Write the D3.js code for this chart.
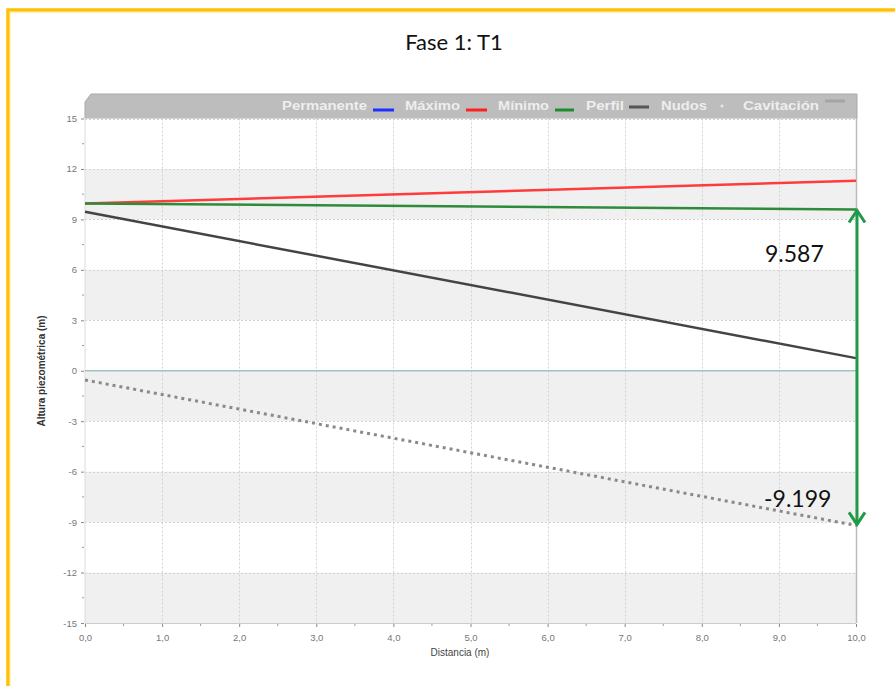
<!DOCTYPE html>
<html>
<head>
<meta charset="utf-8">
<script src="https://cdn.jsdelivr.net/npm/d3@7"></script>
<style>
  html, body { margin: 0; padding: 0; background: #fff; }
  svg { display: block; }
</style>
</head>
<body>
<svg id="chart" width="895" height="686"></svg>
<script>
// ---- data ----
const title = "Fase 1: T1";
const distances = [0, 10];
const maximo = [9.95, 11.3];
const minimo = [9.95, 9.587];
const perfil = [9.45, 0.75];
const cavitacion = [-0.55, -9.199];
const yTicks = [15, 12, 9, 6, 3, 0, -3, -6, -9, -12, -15];
const xTicks = [0, 1, 2, 3, 4, 5, 6, 7, 8, 9, 10];
const legendNames = ["Permanente", "Máximo", "Mínimo", "Perfil", "Nudos", "Cavitación"];
const annotTop = 9.587;
const annotBottom = -9.199;
const xTitle = "Distancia (m)";
const yTitle = "Altura piezométrica (m)";

const svg = d3.select("#chart");
const L = 85, R = 856, T = 118.5, B = 623;

const x = d3.scaleLinear().domain([0, 10]).range([L, R]);
const y = d3.scaleLinear().domain([-15, 15]).range([B, T]);

// outer yellow frame
svg.append("rect").attr("x", 8).attr("y", 10).attr("width", 920).attr("height", 720)
  .attr("fill", "none").attr("stroke", "#FFC000").attr("stroke-width", 3.5);
svg.append("rect").attr("x", 10).attr("y", 12).attr("width", 920).attr("height", 720)
  .attr("fill", "none").attr("stroke", "#FFE38A").attr("stroke-width", 1);

// title
svg.append("text").attr("x", 454).attr("y", 50).attr("text-anchor", "middle")
  .attr("font-family", "Lato, 'Open Sans', sans-serif").attr("font-size", 22)
  .attr("fill", "#111").text(title);

// header band with slanted left corner
svg.append("path")
  .attr("d", `M${L},${T} L${L},${102} L${L + 6},${94} L${R + 1},${94} L${R + 1},${T} Z`)
  .attr("fill", "#bdbdbd").attr("stroke", "#a9a9a9").attr("stroke-width", 1);

// bands
const bandPairs = d3.pairs(yTicks);
svg.append("g").selectAll("rect").data(bandPairs).join("rect")
  .attr("x", L).attr("width", R - L)
  .attr("y", d => y(d[0])).attr("height", d => y(d[1]) - y(d[0]))
  .attr("fill", (d, i) => i % 2 === 1 ? "#f0f0f0" : "#ffffff");

// grid
const grid = svg.append("g").attr("stroke", "#d2d2d2").attr("stroke-dasharray", "2,2").attr("stroke-width", 1);
grid.selectAll(".gx").data(xTicks.slice(1, -1)).join("line")
  .attr("x1", d => Math.round(x(d)) + 0.5).attr("x2", d => Math.round(x(d)) + 0.5)
  .attr("y1", T).attr("y2", B);
grid.selectAll(".gy").data(yTicks.filter(v => v !== 0 && v !== -15)).join("line")
  .attr("x1", L).attr("x2", R)
  .attr("y1", d => Math.round(y(d)) + 0.5).attr("y2", d => Math.round(y(d)) + 0.5);

// plot borders
svg.append("line").attr("x1", L).attr("x2", L).attr("y1", T).attr("y2", B).attr("stroke", "#dcdcdc");
svg.append("line").attr("x1", R + 0.5).attr("x2", R + 0.5).attr("y1", T).attr("y2", B).attr("stroke", "#bbbbbb").attr("stroke-width", 1.5);
svg.append("line").attr("x1", L).attr("x2", R).attr("y1", B + 0.5).attr("y2", B + 0.5).attr("stroke", "#cccccc");

// zero line
svg.append("line").attr("x1", L).attr("x2", R).attr("y1", y(0)).attr("y2", y(0))
  .attr("stroke", "#9fc3c3").attr("stroke-width", 1.5);

// axes
const yAxis = d3.axisLeft(y).tickValues(yTicks).tickSize(3).tickFormat(d => String(d));
const gy = svg.append("g").attr("transform", `translate(${L - 1},0)`).call(yAxis);
gy.select(".domain").remove();
gy.selectAll("line").attr("stroke", "#888");
gy.selectAll("text").attr("fill", "#777").attr("font-size", 9.5).attr("font-family", "'Liberation Sans', Arial, sans-serif").attr("dx", -1);
// minor y ticks
svg.append("g").selectAll("line").data(d3.range(-13.5, 15, 3)).join("line")
  .attr("x1", L - 3).attr("x2", L - 1).attr("y1", d => y(d)).attr("y2", d => y(d)).attr("stroke", "#999");

const xAxis = d3.axisBottom(x).tickValues(xTicks).tickSize(3).tickFormat(d => d3.format(".1f")(d).replace(".", ","));
const gx = svg.append("g").attr("transform", `translate(0,${B + 1})`).call(xAxis);
gx.select(".domain").remove();
gx.selectAll("line").attr("stroke", "#888");
gx.selectAll("text").attr("fill", "#777").attr("font-size", 9.5).attr("font-family", "'Liberation Sans', Arial, sans-serif").attr("dy", "1.2em");
svg.append("g").selectAll("line").data(d3.range(0.5, 10, 1)).join("line")
  .attr("x1", d => x(d)).attr("x2", d => x(d)).attr("y1", B + 1).attr("y2", B + 3).attr("stroke", "#999");

// axis titles
svg.append("text").attr("x", 460).attr("y", 656).attr("text-anchor", "middle")
  .attr("font-family", "'Liberation Sans', Arial, sans-serif").attr("font-size", 10).attr("fill", "#444").text(xTitle);
svg.append("text").attr("transform", `translate(45,${371}) rotate(-90)`).attr("text-anchor", "middle")
  .attr("font-family", "'Liberation Sans', Arial, sans-serif").attr("font-size", 10).attr("font-weight", "bold")
  .attr("fill", "#333").text(yTitle);

// series
const line = d3.line().x(d => x(d[0])).y(d => y(d[1]));
const zipped = arr => distances.map((d, i) => [d, arr[i]]);
svg.append("path").datum(zipped(cavitacion)).attr("d", line).attr("fill", "none")
  .attr("stroke", "#8a8a8a").attr("stroke-width", 3).attr("stroke-dasharray", "3,4");
svg.append("path").datum(zipped(perfil)).attr("d", line).attr("fill", "none")
  .attr("stroke", "#444").attr("stroke-width", 2.5);
svg.append("path").datum(zipped(maximo)).attr("d", line).attr("fill", "none")
  .attr("stroke", "#ff3b3b").attr("stroke-width", 2.5);
svg.append("path").datum(zipped(minimo)).attr("d", line).attr("fill", "none")
  .attr("stroke", "#2e8b3a").attr("stroke-width", 2.5);

// legend in header
const legendX = [282, 405, 498, 586, 661, 743];
const legendW = [85, 55, 51, 38, 46, 76];
const legendMarks = [
  {type: "line", color: "#1f2fff", x: 373, w: 21, y: 110},
  {type: "line", color: "#ff2020", x: 466, w: 21, y: 110},
  {type: "line", color: "#1c8c2c", x: 555, w: 19, y: 110},
  {type: "line", color: "#555555", x: 629, w: 20, y: 107},
  {type: "dot", color: "#e8e8e8", x: 722, y: 106},
  {type: "line", color: "#a5a5a5", x: 825, w: 20, y: 101}
];
const lg = svg.append("g");
lg.selectAll("text").data(legendNames).join("text")
  .attr("x", (d, i) => legendX[i]).attr("y", 110)
  .attr("textLength", (d, i) => legendW[i]).attr("lengthAdjust", "spacingAndGlyphs")
  .attr("font-family", "'Liberation Sans', Arial, sans-serif").attr("font-size", 13).attr("font-weight", "bold")
  .attr("fill", "#eeeeee").text(d => d);
legendMarks.forEach(m => {
  if (m.type === "line") {
    lg.append("line").attr("x1", m.x).attr("x2", m.x + m.w).attr("y1", m.y).attr("y2", m.y)
      .attr("stroke", m.color).attr("stroke-width", 3);
  } else {
    lg.append("circle").attr("cx", m.x).attr("cy", m.y).attr("r", 1.5).attr("fill", m.color);
  }
});

// annotation double arrow
const green = "#1f9a48";
const ax = R + 1;
const aTop = y(annotTop), aBot = y(annotBottom);
svg.append("line").attr("x1", ax).attr("x2", ax).attr("y1", aTop + 1).attr("y2", aBot - 1)
  .attr("stroke", green).attr("stroke-width", 3);
svg.append("path").attr("d", `M${ax - 8},${aTop + 13} L${ax},${aTop + 1} L${ax + 8},${aTop + 13}`)
  .attr("fill", "none").attr("stroke", green).attr("stroke-width", 3).attr("stroke-linejoin", "miter");
svg.append("path").attr("d", `M${ax - 8},${aBot - 13} L${ax},${aBot - 1} L${ax + 8},${aBot - 13}`)
  .attr("fill", "none").attr("stroke", green).attr("stroke-width", 3).attr("stroke-linejoin", "miter");

svg.append("text").attr("x", 765).attr("y", 262)
  .attr("font-family", "Lato, 'Open Sans', sans-serif").attr("font-size", 23).attr("fill", "#111")
  .text(d3.format(".3f")(annotTop));
svg.append("text").attr("x", 764).attr("y", 507)
  .attr("font-family", "Lato, 'Open Sans', sans-serif").attr("font-size", 23).attr("fill", "#111")
  .text(d3.format(".3f")(annotBottom).replace("−", "-"));
</script>
</body>
</html>
